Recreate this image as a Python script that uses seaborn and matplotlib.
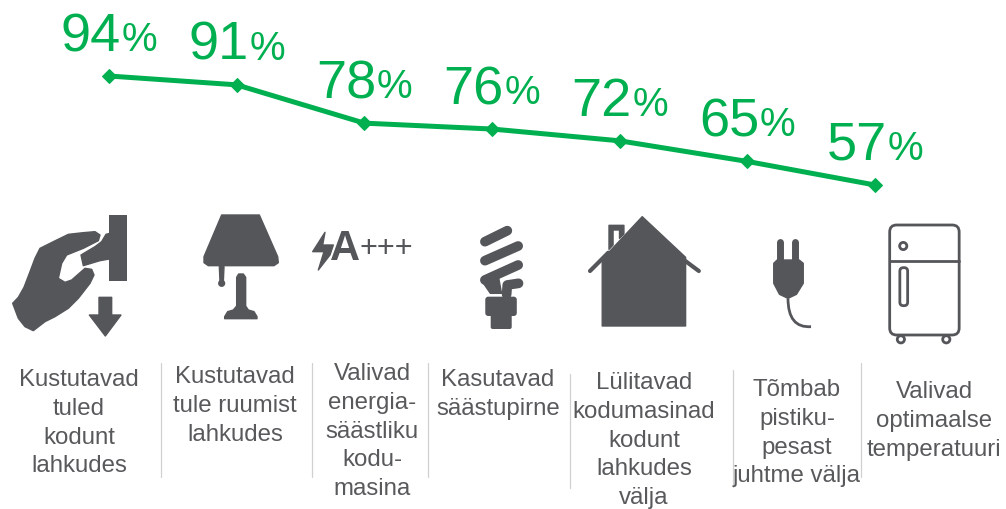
import matplotlib
matplotlib.use("Agg")
import matplotlib.pyplot as plt
import seaborn as sns
import pandas as pd
from matplotlib.patches import Polygon, Circle, FancyBboxPatch, Rectangle, PathPatch
from matplotlib.path import Path

# ---- data ----
categories = [
    "Kustutavad\ntuled\nkodunt\nlahkudes",
    "Kustutavad\ntule ruumist\nlahkudes",
    "Valivad\nenergia-\nsäästliku\nkodu-\nmasina",
    "Kasutavad\nsäästupirne",
    "Lülitavad\nkodumasinad\nkodunt\nlahkudes\nvälja",
    "Tõmbab\npistiku-\npesast\njuhtme välja",
    "Valivad\noptimaalse\ntemperatuuri",
]
values = [94, 91, 78, 76, 72, 65, 57]

# ---- styles / layout ----
GREEN = "#00B050"
GREY = "#54565A"
TEXT = "#58595B"
W, H = 1006, 509
label_x = [79, 235, 372, 498, 644, 797, 934]
label_y = [369, 366, 363, 369, 372, 379, 381]
seps = [(161, 363, 477), (312, 363, 477), (428, 363, 477),
        (570, 374, 488), (733, 370, 487), (861, 363, 477)]

sns.set_theme(style="white")
plt.rcParams["font.family"] = ["Liberation Sans", "DejaVu Sans"]

fig = plt.figure(figsize=(W / 100, H / 100), dpi=100, facecolor="white")

# overlay in pixel coordinates for pictograms and labels
bg = fig.add_axes([0, 0, 1, 1])
bg.set_xlim(0, W)
bg.set_ylim(H, 0)
bg.axis("off")


def z1(pts):
    return [(x / 3, y / 3 + 200) for x, y in pts]


def z2(pts):
    return [(x / 2.95 + 449, y / 3 + 200) for x, y in pts]


def smooth(pts, **kw):
    """closed shape with softened corners"""
    p = Polygon(pts, closed=True, fc=GREY, ec=GREY, lw=1.0, joinstyle="round", **kw)
    bg.add_patch(p)
    return p


def stroke(pts, lw, color=GREY):
    xs, ys = zip(*pts)
    bg.plot(xs, ys, color=color, lw=lw, solid_capstyle="round", solid_joinstyle="round")


# hand + switch
smooth(z1([(38, 310), (55, 292), (72, 262), (90, 215), (105, 175), (120, 145), (160, 125), (205, 103),
           (250, 98), (285, 95), (300, 105), (295, 122), (250, 145), (200, 165), (185, 190), (175, 235),
           (195, 247), (215, 240), (255, 205), (275, 208), (282, 225), (270, 250), (235, 295), (205, 325),
           (165, 350), (135, 365), (100, 392), (75, 380), (55, 355)]))
smooth(z1([(243, 165), (285, 140), (305, 125), (318, 103), (340, 97), (340, 175), (300, 182), (250, 197)]))
bg.add_patch(Rectangle((328 / 3, 45 / 3 + 200), 54 / 3, 198 / 3, fc=GREY, ec="none"))
smooth(z1([(297, 292), (335, 292), (335, 345), (363, 345), (316, 408), (268, 345), (297, 345)]))

# lamp
smooth(z1([(665, 45), (778, 45), (833, 170), (835, 188), (822, 197), (625, 197), (612, 188), (612, 170)]))
bg.add_patch(Circle((665 / 3, 250 / 3 + 200), 3.6, fc=GREY, ec="none"))
smooth(z1([(658, 200), (672, 200), (670, 245), (660, 245)]))
smooth(z1([(710, 232), (716, 222), (730, 222), (737, 232), (737, 318), (745, 330), (762, 335), (771, 350),
           (771, 356), (674, 356), (674, 350), (683, 335), (700, 330), (710, 318)]))

# bolt, A+++
smooth(z1([(975, 97), (938, 155), (972, 155), (955, 210), (990, 165), (1000, 135), (968, 135)]))
bg.text(998 / 3 + 12.5, 245, "A", fontsize=30, fontweight="bold", color=GREY, ha="center", va="center_baseline")
bg.text(360, 246, "+++", fontsize=22, color=GREY, ha="left", va="center_baseline")

# bulb
stroke(z2([(106, 125), (172, 92)]), 7)
stroke(z2([(106, 182), (204, 138)]), 7)
stroke(z2([(106, 240), (204, 195)]), 7)
smooth(z2([(95, 240), (145, 225), (155, 280), (122, 280)]))
stroke(z2([(170, 283), (172, 255), (205, 250)]), 7)
bg.add_patch(FancyBboxPatch((107 / 2.95 + 449 + 3, 290 / 3 + 200 + 3), 93 / 2.95 - 6, 58 / 3 - 6,
                            boxstyle="round,pad=3", fc=GREY, ec="none"))
bg.add_patch(FancyBboxPatch((123 / 2.95 + 449 + 2, 340 / 3 + 200), 62 / 2.95 - 4, 47 / 3 - 2,
                            boxstyle="round,pad=2", fc=GREY, ec="none"))

# house
smooth(z2([(570, 50), (698, 172), (698, 378), (452, 378), (452, 178)]))
smooth(z2([(472, 76), (516, 76), (516, 102), (503, 115), (503, 90), (484, 90), (484, 135), (472, 148)]))
stroke(z2([(416, 213), (470, 158)]), 3)
stroke(z2([(680, 170), (737, 213)]), 3)

# plug
stroke(z2([(975, 127), (975, 185)]), 5)
stroke(z2([(1022, 127), (1022, 185)]), 5)
smooth(z2([(958, 190), (968, 180), (1033, 180), (1045, 190), (1045, 250), (1025, 283), (1000, 295),
           (975, 283), (958, 250)]))
cord = Path(z2([(1000, 295), (1000, 385), (1068, 380)]), [Path.MOVETO, Path.CURVE3, Path.CURVE3])
bg.add_patch(PathPatch(cord, fc="none", ec=GREY, lw=2))

# fridge
LW = 2.0
bg.add_patch(FancyBboxPatch((1300 / 2.95 + 449 + 7, 75 / 3 + 200 + 7), 205 / 2.95 - 14, 330 / 3 - 14,
                            boxstyle="round,pad=7", fc="none", ec=GREY, lw=LW))
stroke(z2([(1300, 182), (1505, 182)]), LW)
bg.add_patch(Circle((1340 / 2.95 + 449, 138 / 3 + 200), 3.6, fc="none", ec=GREY, lw=LW))
bg.add_patch(FancyBboxPatch((1330 / 2.95 + 449 + 3.5, 203 / 3 + 200 + 3.5), 23 / 2.95 - 7, 114 / 3 - 7,
                            boxstyle="round,pad=3.5", fc="none", ec=GREY, lw=LW))
for wx in (1333, 1467):
    bg.add_patch(Circle((wx / 2.95 + 449, 418 / 3 + 200), 3.6, fc="none", ec=GREY, lw=LW))

# separators and labels
for x, y0, y1 in seps:
    bg.plot([x, x], [y0, y1], color="#D0D0D0", lw=0.9)
for x, y, lab in zip(label_x, label_y, categories):
    bg.text(x, y, lab, fontsize=17.3, color=TEXT, ha="center", va="top", linespacing=1.40)

# line chart aligned so first/last points land on the reference positions
ax = fig.add_axes([109 / W, 1 - 185 / H, (875 - 109) / W, (185 - 76) / H], facecolor="none")
df = pd.DataFrame({"cat": categories, "val": values})
sns.lineplot(data=df, x="cat", y="val", ax=ax, sort=False, color=GREEN, lw=3.6,
             marker="D", markersize=7.5, markeredgecolor=GREEN, clip_on=False)
ax.set_xlim(0, 6)
ax.set_ylim(57, 94)
ax.axis("off")
for i, v in enumerate(values):
    ax.annotate(str(v), (i, v), xytext=(8.5, 18), textcoords="offset points", ha="right", va="baseline",
                fontsize=39, color=GREEN, annotation_clip=False)
    ax.annotate("%", (i, v), xytext=(9, 18), textcoords="offset points", ha="left", va="baseline",
                fontsize=29, color=GREEN, annotation_clip=False)

fig.savefig("out.png", dpi=100)
